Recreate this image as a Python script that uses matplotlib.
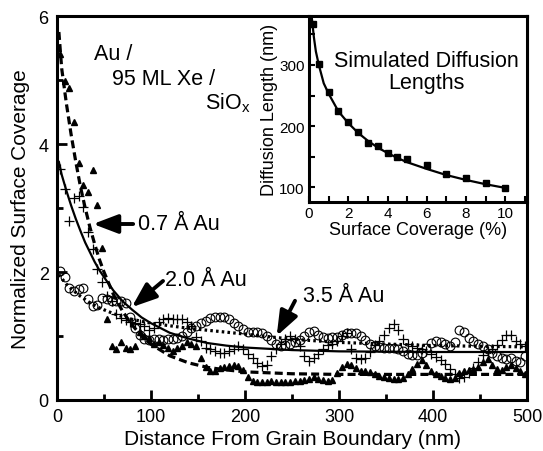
import matplotlib
matplotlib.use("Agg")
import matplotlib.pyplot as plt
from matplotlib.ticker import MultipleLocator

plt.rcParams['font.family'] = ['Liberation Sans', 'DejaVu Sans']
plt.rcParams['mathtext.fontset'] = 'custom'
plt.rcParams['mathtext.rm'] = 'Liberation Sans'

# ---------------- data ----------------
distance = [3, 8, 13, 18, 23, 28, 33, 38, 43, 48,
            53, 58, 63, 68, 73, 78, 83, 88, 93, 98,
            103, 108, 113, 118, 123, 128, 133, 138, 143, 148,
            153, 158, 163, 168, 173, 178, 183, 188, 193, 198,
            203, 208, 213, 218, 223, 228, 233, 238, 243, 248,
            253, 258, 263, 268, 273, 278, 283, 288, 293, 298,
            303, 308, 313, 318, 323, 328, 333, 338, 343, 348,
            353, 358, 363, 368, 373, 378, 383, 388, 393, 398,
            403, 408, 413, 418, 423, 428, 433, 438, 443, 448,
            453, 458, 463, 468, 473, 478, 483, 488, 493, 498]

au_07 = [5.40, 4.98, 4.88, 4.35, 3.70, 3.36, 3.25, 3.60, 3.05, 2.38,
         1.27, 0.85, 0.80, 0.90, 0.82, 0.80, 0.85, 1.06, 1.00, 0.97,
         0.88, 0.90, 0.86, 0.82, 0.77, 0.82, 0.85, 0.90, 0.88, 0.85,
         0.66, 0.52, 0.46, 0.45, 0.50, 0.52, 0.53, 0.55, 0.53, 0.47,
         0.36, 0.30, 0.28, 0.28, 0.28, 0.29, 0.28, 0.28, 0.28, 0.28,
         0.29, 0.30, 0.31, 0.33, 0.36, 0.33, 0.31, 0.30, 0.32, 0.42,
         0.52, 0.57, 0.55, 0.50, 0.46, 0.45, 0.43, 0.41, 0.38, 0.36,
         0.34, 0.33, 0.33, 0.34, 0.40, 0.48, 0.57, 0.62, 0.55, 0.45,
         0.40, 0.37, 0.34, 0.33, 0.35, 0.42, 0.46, 0.47, 0.48, 0.52,
         0.60, 0.64, 0.55, 0.48, 0.47, 0.52, 0.54, 0.50, 0.46, 0.40]

au_20 = [3.61, 3.30, 2.79, 3.15, 3.18, 3.02, 2.62, 2.36, 2.05, 1.84,
         1.63, 1.55, 1.34, 1.28, 1.25, 1.22, 1.20, 1.18, 1.15, 1.10,
         1.12, 1.22, 1.27, 1.28, 1.27, 1.27, 1.26, 1.22, 1.15, 0.98,
         0.92, 0.82, 0.79, 0.77, 0.74, 0.73, 0.77, 0.80, 0.84, 0.80,
         0.72, 0.65, 0.58, 0.53, 0.55, 0.68, 0.80, 0.88, 0.95, 1.00,
         0.96, 0.85, 0.69, 0.61, 0.66, 0.72, 0.80, 0.86, 0.88, 0.92,
         1.00, 1.04, 0.80, 0.66, 0.64, 0.65, 0.75, 0.86, 0.92, 1.02,
         1.12, 1.19, 1.10, 0.95, 0.88, 0.84, 0.82, 0.80, 0.77, 0.72,
         0.67, 0.62, 0.56, 0.48, 0.40, 0.35, 0.36, 0.42, 0.50, 0.60,
         0.70, 0.76, 0.80, 0.86, 0.93, 1.02, 1.02, 0.92, 0.88, 0.85]

au_35 = [2.02, 1.92, 1.75, 1.70, 1.74, 1.75, 1.58, 1.47, 1.48, 1.60,
         1.58, 1.55, 1.55, 1.55, 1.52, 1.30, 1.12, 1.02, 0.96, 0.93,
         0.96, 0.96, 0.93, 0.95, 0.95, 0.97, 1.00, 1.06, 1.12, 1.16,
         1.20, 1.24, 1.28, 1.30, 1.30, 1.30, 1.27, 1.21, 1.16, 1.11,
         1.07, 1.06, 1.06, 1.04, 1.00, 0.93, 0.88, 0.85, 0.86, 0.88,
         0.90, 0.94, 1.00, 1.06, 1.08, 1.02, 0.99, 0.97, 0.98, 0.99,
         1.02, 1.04, 1.05, 1.04, 1.00, 0.94, 0.88, 0.85, 0.83, 0.82,
         0.82, 0.81, 0.80, 0.76, 0.72, 0.70, 0.70, 0.74, 0.82, 0.89,
         0.92, 0.91, 0.88, 0.84, 0.90, 1.10, 1.06, 0.97, 0.92, 0.88,
         0.84, 0.80, 0.74, 0.69, 0.65, 0.64, 0.65, 0.61, 0.60, 0.68]

fit_x = [2, 5, 10, 15, 20, 25, 30, 35, 40, 45, 50, 60, 70, 80, 90, 100,
         120, 140, 160, 180, 200, 250, 300, 400, 500]
fit_07 = [5.75, 5.18, 4.63, 4.15, 3.72, 3.33, 3.00, 2.70, 2.44, 2.20, 2.00,
          1.65, 1.38, 1.17, 1.00, 0.87, 0.69, 0.58, 0.51, 0.47, 0.44,
          0.41, 0.40, 0.40, 0.40]
fit_20 = [3.72, 3.52, 3.27, 3.04, 2.83, 2.64, 2.46, 2.31, 2.16, 2.03, 1.92,
          1.71, 1.54, 1.41, 1.29, 1.20, 1.05, 0.96, 0.89, 0.85, 0.82,
          0.78, 0.76, 0.75, 0.75]
fit_35 = [1.96, 1.90, 1.81, 1.74, 1.68, 1.62, 1.57, 1.52, 1.48, 1.44, 1.41,
          1.35, 1.30, 1.26, 1.23, 1.20, 1.16, 1.12, 1.09, 1.06, 1.03,
          0.95, 0.90, 0.85, 0.83]

# inset: simulated diffusion lengths
coverage = [0.2, 0.5, 1, 1.5, 2, 2.5, 3, 3.5, 4, 4.5, 5, 6, 7, 8, 9, 10]
diff_len = [367, 301, 255, 224, 206, 190, 173, 168, 156, 149, 147, 137, 121,
            116, 107, 99]
cov_fit = [0.15, 0.25, 0.35, 0.5, 0.75, 1.0, 1.5, 2.0, 2.5, 3.0, 3.5, 4.0,
           4.5, 5.0, 6.0, 7.0, 8.0, 9.0, 10.0]
len_fit = [375, 345, 322, 300, 270, 253, 224, 205, 189, 176, 165, 156, 148,
           141, 130, 120, 112, 105, 99]

# ---------------- figure ----------------
W, H = 543, 452
fig = plt.figure(figsize=(W / 100, H / 100), dpi=100)
ax = fig.add_axes([57 / W, 1 - 401 / H, 470 / W, 384 / H])

ax.plot(distance, au_07, ls='none', marker='^', ms=5, color='k', mec='k')
ax.plot(distance, au_20, ls='none', marker='+', ms=7, mew=0.9, color='k')
ax.plot(distance, au_35, ls='none', marker='o', ms=6.3, mfc='none', mec='k',
        mew=0.8)
ax.plot(fit_x, fit_07, color='k', lw=2.3, dashes=(2.5, 1.3))
ax.plot(fit_x, fit_20, color='k', lw=1.6)
ax.plot(fit_x, fit_35, color='k', lw=2.3, dashes=(0.8, 1.0))

ax.set_xlim(0, 500)
ax.set_ylim(0, 6)
ax.xaxis.set_major_locator(MultipleLocator(100))
ax.xaxis.set_minor_locator(MultipleLocator(50))
ax.yaxis.set_major_locator(MultipleLocator(2))
ax.yaxis.set_minor_locator(MultipleLocator(1))
ax.tick_params(which='both', direction='in', width=2, labelsize=13,
               top=False, right=False)
ax.tick_params(which='major', length=7, pad=6)
ax.tick_params(which='minor', length=4)
for s in ax.spines.values():
    s.set_linewidth(2.2)
ax.set_xlabel('Distance From Grain Boundary (nm)', fontsize=15, labelpad=3)
ax.set_ylabel('Normalized Surface Coverage', fontsize=15, labelpad=6)

tfs = 15.5
ax.text(39.4, 5.41, 'Au /', fontsize=tfs, ha='left', va='center')
ax.text(58.5, 5.02, '95 ML Xe /', fontsize=tfs, ha='left', va='center')
ax.text(157.4, 4.66, 'SiO$_{\\mathregular{x}}$', fontsize=tfs, ha='left',
        va='center')
ax.text(86.2, 2.75, '0.7 Å Au', fontsize=tfs, ha='left', va='center')
ax.text(115, 1.89, '2.0 Å Au', fontsize=tfs, ha='left', va='center')
ax.text(261.7, 1.63, '3.5 Å Au', fontsize=tfs, ha='left', va='center')

aprops = dict(arrowstyle='-|>,head_length=1.0,head_width=0.38', lw=2.8,
              color='k', mutation_scale=15, shrinkA=0, shrinkB=0)
ax.annotate('', xy=(38.3, 2.75), xytext=(81, 2.75), arrowprops=aprops)
ax.annotate('', xy=(79.5, 1.45), xytext=(112.8, 1.86), arrowprops=aprops)
ax.annotate('', xy=(233.7, 1.0), xytext=(253.2, 1.55), arrowprops=aprops)

# ---------------- inset ----------------
ins = fig.add_axes([309 / W, 1 - 203 / H, 218 / W, 186 / H])
ins.plot(cov_fit, len_fit, color='k', lw=1.6)
ins.plot(coverage, diff_len, ls='none', marker='s', ms=4.5, color='k')
ins.set_xlim(0, 11.1)
ins.set_ylim(76, 380)
ins.xaxis.set_major_locator(MultipleLocator(2))
ins.xaxis.set_minor_locator(MultipleLocator(1))
ins.yaxis.set_major_locator(MultipleLocator(100))
ins.yaxis.set_minor_locator(MultipleLocator(50))
ins.tick_params(which='both', direction='in', width=1.5, length=4,
                labelsize=11, top=False, right=False, pad=3)
for s in ins.spines.values():
    s.set_linewidth(2.2)
ins.set_xlabel('Surface Coverage (%)', fontsize=13, labelpad=0.5)
ins.set_ylabel('Diffusion Length (nm)', fontsize=13, labelpad=1)
ins.text(6.0, 289, 'Simulated Diffusion\nLengths', fontsize=tfs,
         ha='center', va='center', linespacing=1.1)

fig.savefig('out.png', dpi=100)
